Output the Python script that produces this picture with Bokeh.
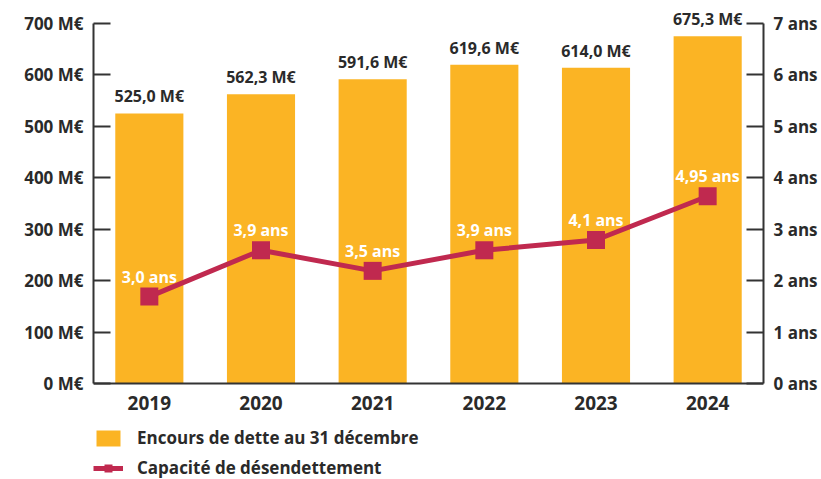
from bokeh.plotting import figure
from bokeh.models import (FactorRange, Range1d, LinearAxis, FixedTicker,
                          ColumnDataSource, Legend, LegendItem, LabelSet)
from bokeh.core.properties import value
from bokeh.embed import file_html
from bokeh.resources import INLINE

# ---- data ----
years = ["2019", "2020", "2021", "2022", "2023", "2024"]
encours = [525.0, 562.3, 591.6, 619.6, 614.0, 675.3]
encours_labels = ["525,0 M€", "562,3 M€", "591,6 M€", "619,6 M€", "614,0 M€", "675,3 M€"]
capacite = [3.0, 3.9, 3.5, 3.9, 4.1, 4.95]
capacite_labels = ["3,0 ans", "3,9 ans", "3,5 ans", "3,9 ans", "4,1 ans", "4,95 ans"]
left_ticks = [0, 100, 200, 300, 400, 500, 600, 700]
left_tick_labels = ["0 M€", "100 M€", "200 M€", "300 M€", "400 M€", "500 M€", "600 M€", "700 M€"]
right_ticks = [0, 1, 2, 3, 4, 5, 6, 7]
right_tick_labels = ["0 ans", "1 ans", "2 ans", "3 ans", "4 ans", "5 ans", "6 ans", "7 ans"]
legend_labels = ["Encours de dette au 31 décembre", "Capacité de désendettement"]

# ---- style ----
ORANGE = "#FBB424"
CRIMSON = "#C0294F"
TEXT = "#2a2a2a"
AXIS = "#333333"
FONT = "Open Sans"
# frame spans the whole height: room above 700 M€ for the top label and below 0 for years + legend
Y_LO, Y_HI = -186.7, 735.0
R_LO, R_HI = Y_LO / 100, Y_HI / 100
LINE_OFFSET = 1.31  # the original draws the line shifted against its right scale

src = ColumnDataSource(dict(years=years, encours=encours, encours_labels=encours_labels,
                            capacite=capacite, capacite_labels=capacite_labels))

p = figure(frame_width=670, frame_height=474, x_range=FactorRange(*years, range_padding=0),
           y_range=Range1d(Y_LO, Y_HI), output_backend="svg", toolbar_location=None,
           min_border_left=93, min_border_right=58, min_border_top=5, min_border_bottom=0)
p.extra_y_ranges = {"ans": Range1d(R_LO, R_HI),
                    "line": Range1d(R_LO + LINE_OFFSET, R_HI + LINE_OFFSET)}
p.outline_line_color = None
p.grid.visible = False
p.background_fill_color = "white"

bars = p.vbar(x="years", top="encours", width=0.61, source=src,
              fill_color=ORANGE, line_color=None)
p.add_layout(LabelSet(x="years", y="encours", text="encours_labels", source=src,
                      text_align="center", text_baseline="bottom", y_offset=6,
                      text_font=value(FONT), text_font_style="bold", text_font_size="16px",
                      text_color=TEXT))

line = p.line(x="years", y="capacite", source=src, y_range_name="line",
              line_color=CRIMSON, line_width=5)
marks = p.scatter(x="years", y="capacite", source=src, y_range_name="line",
                  marker="square", size=18, fill_color=CRIMSON, line_color=None)
p.add_layout(LabelSet(x="years", y="capacite", text="capacite_labels", source=src,
                      y_range_name="line", text_align="center", text_baseline="middle",
                      y_offset=20, text_font=value(FONT), text_font_style="bold",
                      text_font_size="16px", text_color="white"))

def style_axis(ax, size):
    ax.minor_tick_line_color = None
    ax.axis_line_width = 2
    ax.major_tick_line_width = 2
    ax.axis_line_color = AXIS
    ax.major_tick_line_color = AXIS
    ax.major_label_text_font = FONT
    ax.major_label_text_font_style = "bold"
    ax.major_label_text_font_size = size
    ax.major_label_text_color = TEXT

# left axis
ya = p.yaxis[0]
ya.ticker = FixedTicker(ticks=left_ticks)
ya.bounds = (left_ticks[0], left_ticks[-1])
ya.major_label_overrides = {t: l for t, l in zip(left_ticks, left_tick_labels)}
style_axis(ya, "17px")
ya.major_tick_in = 17
ya.major_tick_out = 0
ya.major_label_standoff = 10

# right axis
ra = LinearAxis(y_range_name="ans", ticker=FixedTicker(ticks=right_ticks),
                bounds=(right_ticks[0], right_ticks[-1]),
                major_label_overrides={t: l for t, l in zip(right_ticks, right_tick_labels)})
style_axis(ra, "17px")
ra.major_tick_in = 17
ra.major_tick_out = 0
ra.major_label_standoff = 10
p.add_layout(ra, "right")

# bottom axis, pinned at 0 M€
xa = p.xaxis[0]
style_axis(xa, "19px")
xa.fixed_location = 0
xa.major_tick_line_color = None
xa.major_label_standoff = 7

legend = Legend(items=[LegendItem(label=legend_labels[0], renderers=[bars]),
                       LegendItem(label=legend_labels[1], renderers=[line, marks])],
                location=(0, 0), orientation="vertical",
                glyph_width=30, glyph_height=20, spacing=7, padding=0, margin=0,
                label_standoff=14, border_line_color=None, background_fill_alpha=0,
                label_text_font=FONT, label_text_font_style="bold",
                label_text_font_size="17px", label_text_color=TEXT)
p.add_layout(legend, "center")

open("out.html", "w").write(file_html(p, INLINE))
